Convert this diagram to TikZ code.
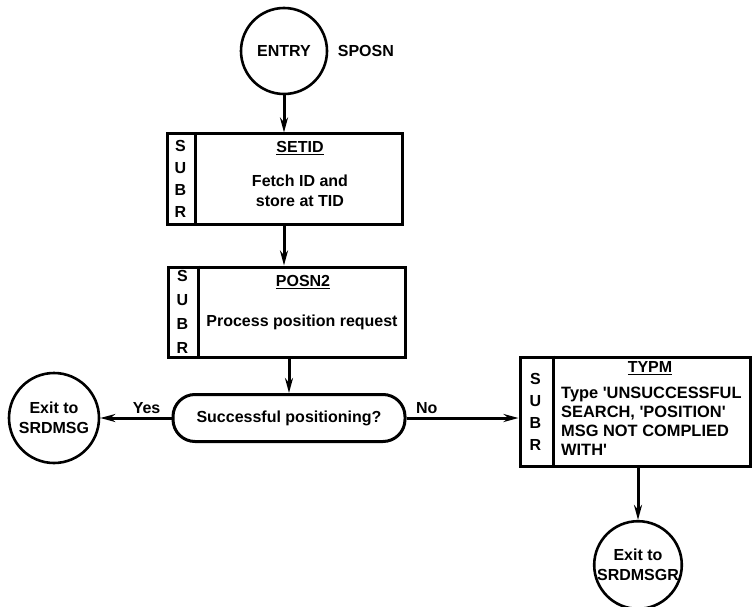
\documentclass[tikz,border=0pt]{standalone}
\usepackage{fontspec}
\setmainfont{Liberation Sans}
\usepackage{tikz}
\usetikzlibrary{arrows.meta, positioning}

\newcommand{\sq}{\textquotesingle}

\tikzset{
    txt/.style={font=\fontsize{16}{20}\selectfont\bfseries},
    circ/.style={draw, circle, line width=2.6pt, minimum size=#1, inner sep=0pt, txt, align=center},
    subbox/.style={draw, rectangle, line width=3pt, inner sep=0pt},
    subr/.style={txt, align=center, inner sep=0pt},
    link/.style={line width=3pt, -{Stealth[length=15pt,width=8pt]}},
}

\begin{document}
\begin{tikzpicture}[x=1pt, y=-1pt]
        \useasboundingbox (0,0) rectangle (752,607);

        % entry
        \node[circ=86pt] (entry) at (284,51) {ENTRY};
        \node[txt, right=6pt of entry] (sposn) {SPOSN};

        % SETID
        \node[subbox, minimum width=235pt, minimum height=90pt] (setid) at (284.5,179) {};
        \draw[line width=2.6pt] ([xshift=30pt]setid.north west) -- ([xshift=30pt]setid.south west);
        \node[subr, font=\fontsize{16}{22}\selectfont\bfseries] (setidsubr) at ([xshift=15pt]setid.west) {S\\U\\B\\R};
        \node[txt] (setidname) at (300,148) {\underline{SETID}};
        \node[txt, align=center] (setidtext) at (300,191) {Fetch ID and\\store at TID};

        % POSN2
        \node[subbox, minimum width=237pt, minimum height=90pt] (posn) at (286.5,312) {};
        \draw[line width=2.6pt] ([xshift=32pt]posn.north west) -- ([xshift=32pt]posn.south west);
        \node[subr, font=\fontsize{16}{24}\selectfont\bfseries] (posnsubr) at ([xshift=16pt]posn.west) {S\\U\\B\\R};
        \node[txt] (posnname) at (303,282) {\underline{POSN2}};
        \node[txt] (posntext) at (302,322) {Process position request};

        % decision
        \node[draw, line width=3pt, rounded corners=22pt, minimum width=232pt, minimum height=47pt, txt] (found) at (289,418) {Successful positioning?};

        % exits
        \node[circ=90pt] (exitA) at (54,418) {Exit to\\SRDMSG};
        \node[circ=86pt] (exitB) at (638,565) {Exit to\\SRDMSGR};

        % TYPM
        \node[subbox, minimum width=230pt, minimum height=109pt] (typm) at (635,411.5) {};
        \draw[line width=2.6pt] ([xshift=35pt]typm.north west) -- ([xshift=35pt]typm.south west);
        \node[subr, font=\fontsize{16}{22}\selectfont\bfseries] (typmsubr) at ([xshift=17pt]typm.west) {S\\U\\B\\R};
        \node[txt] (typmname) at (650,368) {\underline{TYPM}};
        \node[txt, align=left, anchor=west, font=\fontsize{16.4}{19}\selectfont\bfseries, inner sep=0pt] (typmtext) at (561,421) {Type \sq UNSUCCESSFUL\\SEARCH, \sq POSITION\sq\\MSG NOT COMPLIED\\WITH\sq};

        % connectors
        \draw[link] (entry.south) -- (entry.south |- setid.north);
        \draw[link] (setid.south -| entry.south) -- (entry.south |- posn.north);
        \draw[link] (posn.south -| found.north) -- (found.north);
        \draw[link] (found.west) -- node[txt, above, pos=0.35] {Yes} (exitA.east);
        \draw[link] (found.east) -- node[txt, above, pos=0.18] {No} (typm.west |- found.east);
        \draw[link] (typm.south -| exitB.north) -- (exitB.north);
    \end{tikzpicture}
\end{document}
